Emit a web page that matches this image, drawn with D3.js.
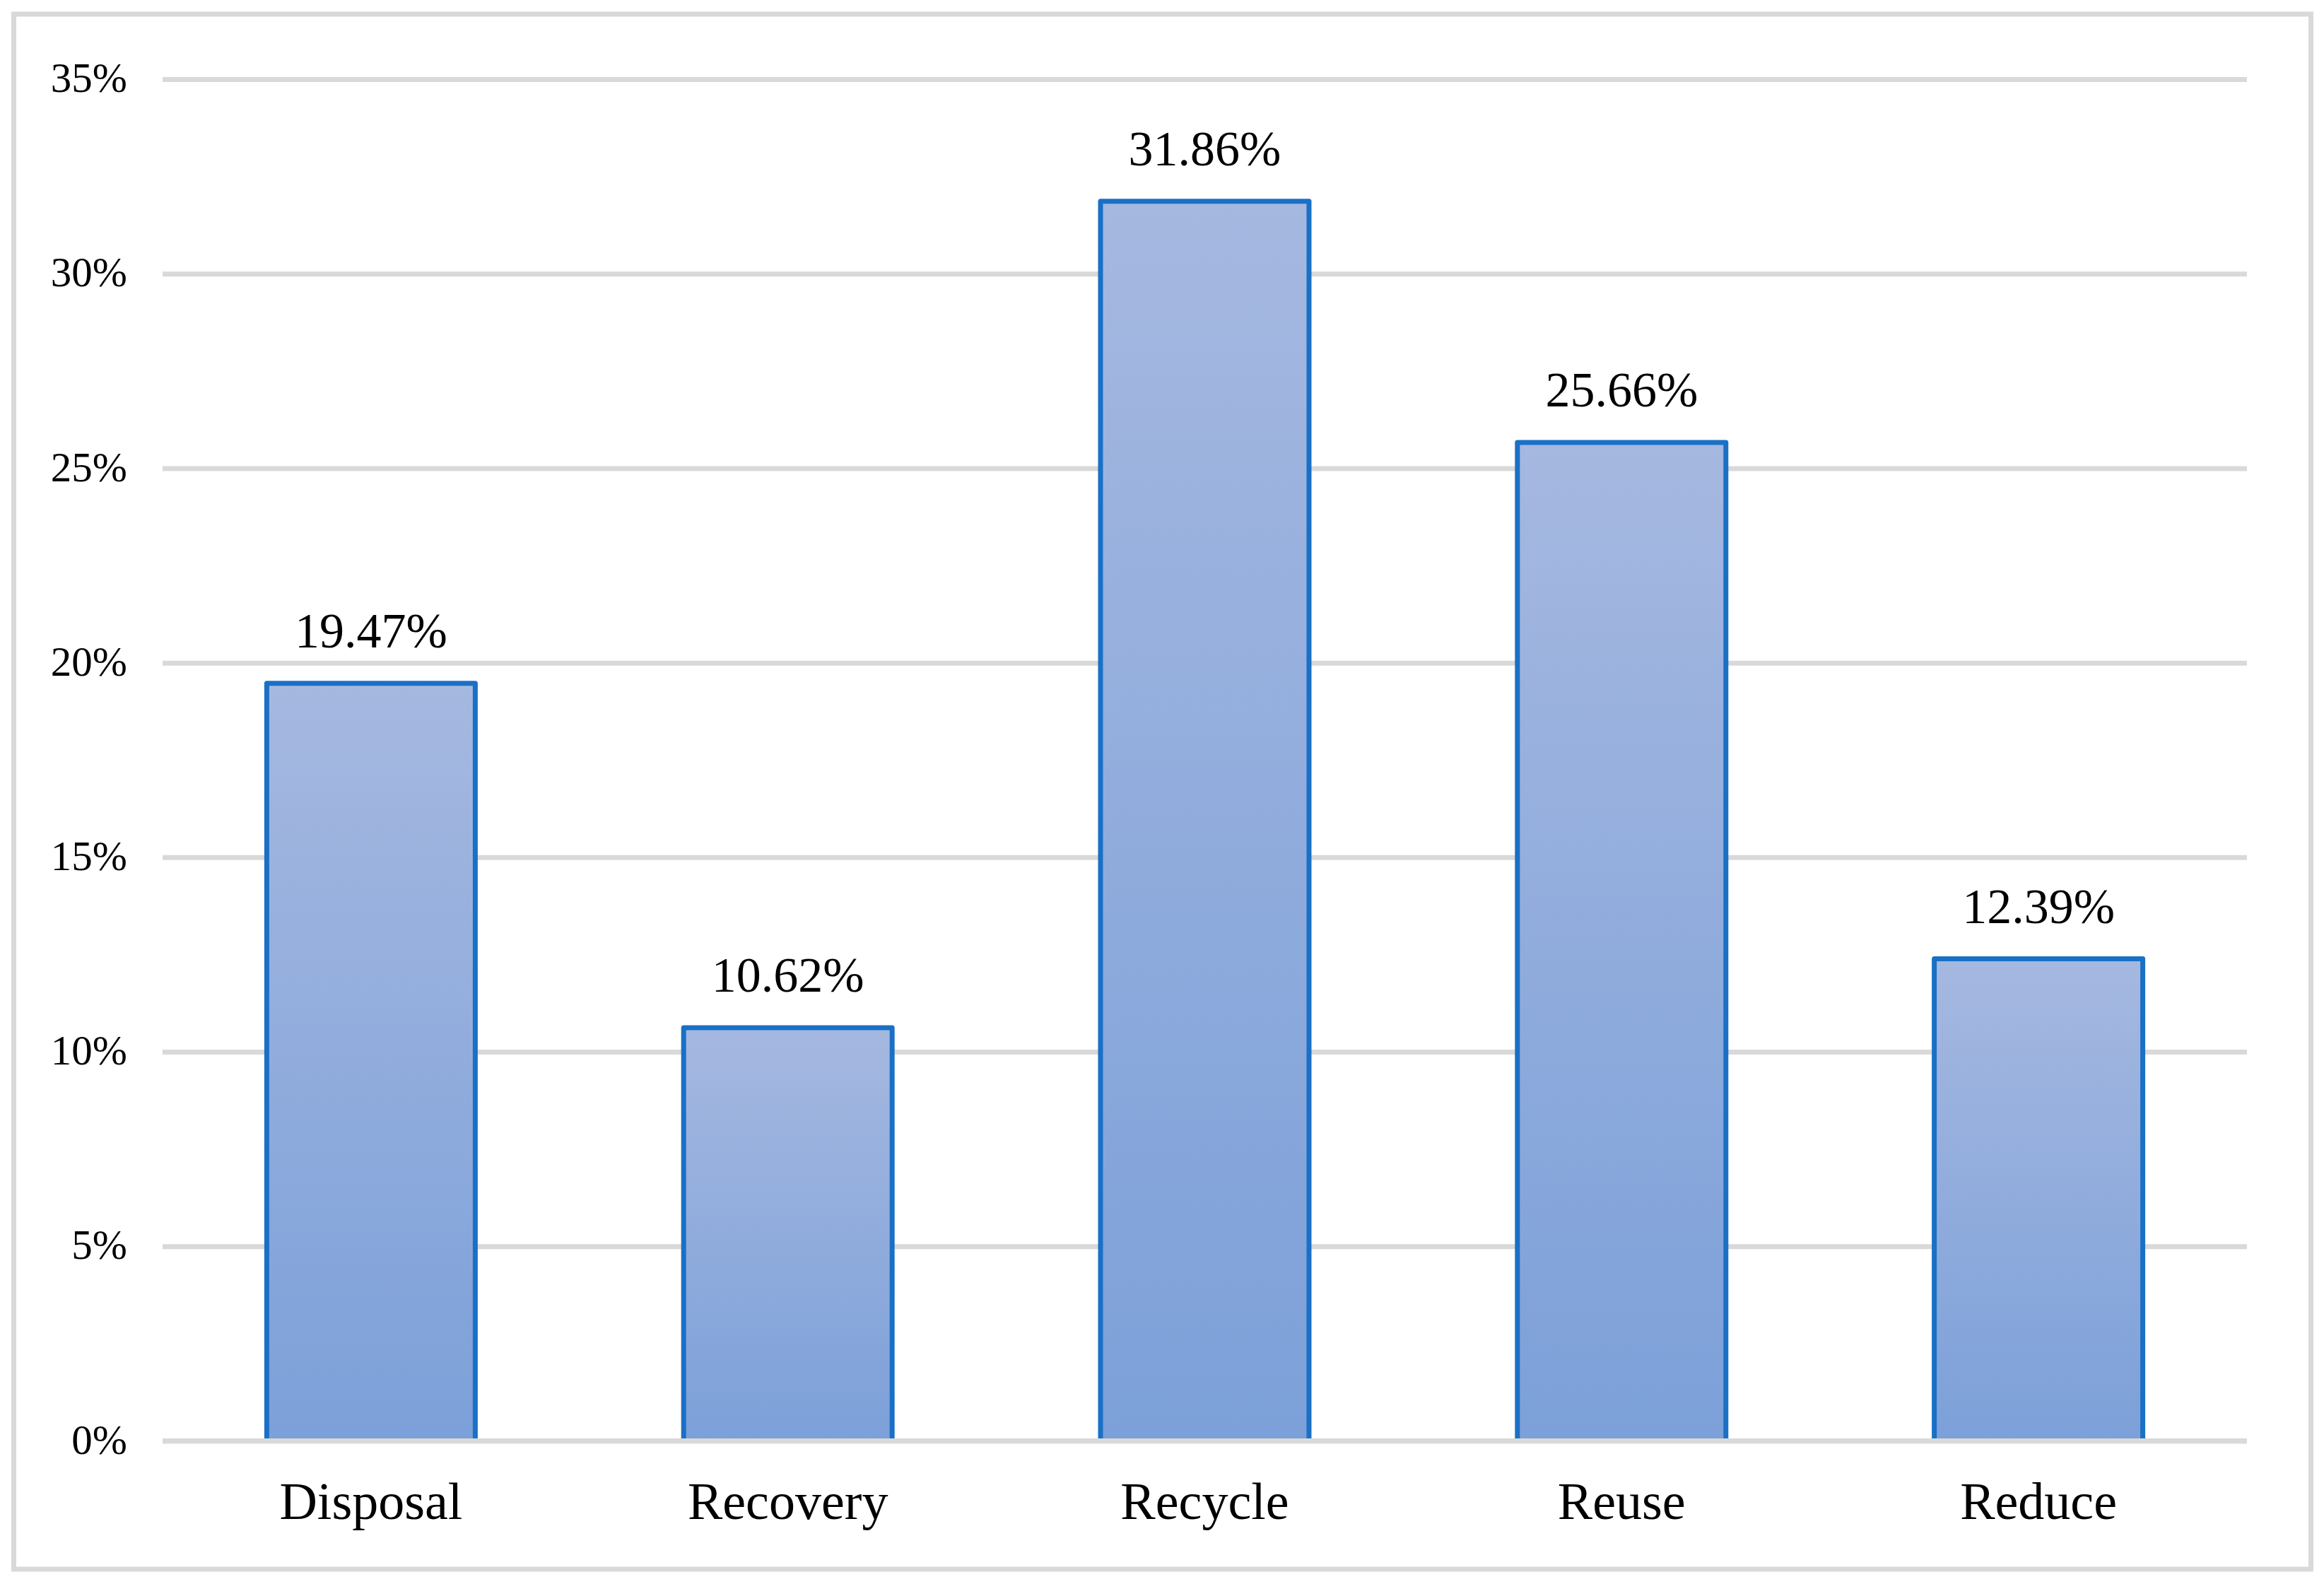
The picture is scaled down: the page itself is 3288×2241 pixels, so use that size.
<!DOCTYPE html>
<html>
<head>
<meta charset="utf-8">
<script src="https://cdn.jsdelivr.net/npm/d3@7"></script>
<style>
  body { margin: 0; background: #fff; }
  text { font-family: "Times New Roman", "Liberation Serif", serif; fill: #000; }
</style>
</head>
<body>
<script>
var width = 3288,
    height = 2241;

// data
var categories = ["Disposal", "Recovery", "Recycle", "Reuse", "Reduce"];
var shares = [19.47, 10.62, 31.86, 25.66, 12.39];
var yTicks = [0, 5, 10, 15, 20, 25, 30, 35];

var x = d3.scaleBand()
    .domain(categories)
    .range([230, 3179])
    .paddingInner(0.488)
    .paddingOuter(0.244);

var y = d3.scaleLinear()
    .domain([0, 35])
    .range([2038.5, 112]);

var svg = d3.select("body").append("svg")
    .attr("width", width)
    .attr("height", height);

// bar gradient, light at top
var grad = svg.append("defs").append("linearGradient")
    .attr("id", "barFill")
    .attr("x1", 0).attr("y1", 0).attr("x2", 0).attr("y2", 1);
grad.append("stop").attr("offset", "0%").attr("stop-color", "#a5b8e0");
grad.append("stop").attr("offset", "100%").attr("stop-color", "#7ca0d9");

// chart frame
svg.append("rect")
    .attr("x", 19.5)
    .attr("y", 20)
    .attr("width", 3250)
    .attr("height", 2200)
    .attr("fill", "none")
    .attr("stroke", "#d9d9d9")
    .attr("stroke-width", 7);

// gridlines + tick labels via axis
var yAxis = svg.append("g")
    .attr("transform", "translate(230,0)")
    .call(d3.axisLeft(y)
      .tickValues(yTicks)
      .tickSize(-(3179 - 230))
      .tickPadding(50)
      .tickFormat(function(d) { return d + "%"; }));

yAxis.select(".domain").remove();
yAxis.selectAll(".tick line")
    .attr("stroke", "#d9d9d9")
    .attr("stroke-width", 7);
yAxis.selectAll(".tick text")
    .attr("font-size", 59)
    .attr("font-family", "'Times New Roman', 'Liberation Serif', serif")
    .attr("fill", "#000")
    .attr("dy", "0.3em");

// bars
var bars = svg.append("g").attr("class", "bars");

bars.selectAll("rect")
    .data(shares)
    .enter().append("rect")
    .attr("x", function(d, i) { return x(categories[i]) + 3.5; })
    .attr("y", function(d) { return y(d); })
    .attr("width", x.bandwidth() - 7)
    .attr("height", function(d) { return y(0) - y(d); })
    .attr("fill", "url(#barFill)")
    .attr("stroke", "#1a70c5")
    .attr("stroke-width", 7)
    .attr("stroke-linejoin", "round");

// baseline over bar bottoms
svg.append("line")
    .attr("x1", 230)
    .attr("x2", 3179)
    .attr("y1", y(0))
    .attr("y2", y(0))
    .attr("stroke", "#d9d9d9")
    .attr("stroke-width", 7);

// value labels
svg.append("g").selectAll("text")
    .data(shares)
    .enter().append("text")
    .attr("x", function(d, i) { return x(categories[i]) + x.bandwidth() / 2; })
    .attr("y", function(d) { return y(d) - 51; })
    .attr("text-anchor", "middle")
    .attr("font-size", 70)
    .text(function(d) { return d.toFixed(2) + "%"; });

// category labels
svg.append("g").selectAll("text")
    .data(categories)
    .enter().append("text")
    .attr("x", function(d) { return x(d) + x.bandwidth() / 2; })
    .attr("y", y(0) + 110)
    .attr("text-anchor", "middle")
    .attr("font-size", 74)
    .text(function(d) { return d; });
</script>
</body>
</html>
